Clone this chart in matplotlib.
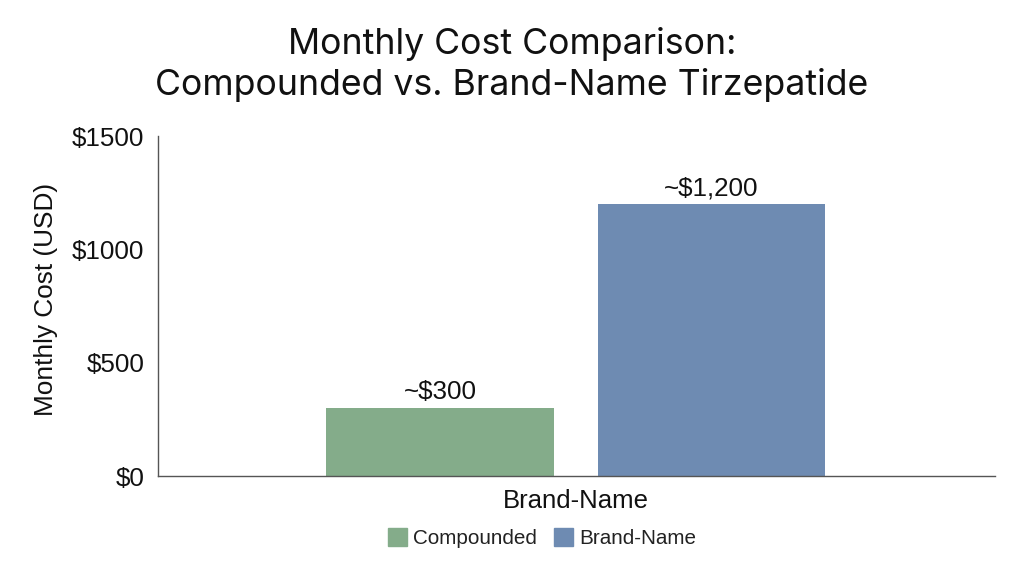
import numpy as np
import matplotlib.pyplot as plt
from matplotlib.patches import Patch

plt.rcParams['font.family'] = ['Liberation Sans', 'DejaVu Sans']

categories = ["Compounded", "Brand-Name"]
costs = [300, 1200]
bar_labels = ["~$300", "~$1,200"]
colors = ["#84AC8A", "#6E8BB2"]
yticks = [0, 500, 1000, 1500]
ytick_labels = ["$0", "$500", "$1000", "$1500"]
group_label = "Brand-Name"

fig = plt.figure(figsize=(10.24, 5.72), dpi=100)
ax = fig.add_axes([158 / 1024, 1 - 476 / 572, (995 - 158) / 1024, (476 - 136) / 572])

# two bars side by side in the one group
x = np.array([-0.5, 0.5])
bars = ax.bar(x, costs, width=227 / 271, color=colors)
for rect, label in zip(bars, bar_labels):
    ax.text(rect.get_x() + rect.get_width() / 2, rect.get_height() + 17, label,
            ha='center', va='bottom', fontsize=18.7, color='#111111')

ax.set_xlim(-0.5 - (440 - 158) / 271, -0.5 + (995 - 440) / 271)
ax.set_ylim(0, 1500)
ax.set_yticks(yticks)
ax.set_yticklabels(ytick_labels, fontsize=18.7, color='#111111')
ax.set_xticks([0])
ax.set_xticklabels([group_label], fontsize=18.5, color='#111111')
ax.tick_params(axis='x', length=0, pad=9)
ax.tick_params(axis='y', length=0, pad=10)
ax.set_ylabel("Monthly Cost (USD)", fontsize=18.9, color='#111111', labelpad=10, y=0.518)

for side in ['top', 'right']:
    ax.spines[side].set_visible(False)
for side in ['left', 'bottom']:
    ax.spines[side].set_color('#555555')
    ax.spines[side].set_linewidth(1)

title_font = ['Inter', 'DejaVu Sans']
fig.text(0.5, 1 - 44 / 572, "Monthly Cost Comparison:", family=title_font, ha='center',
         va='center', fontsize=25.7, color='#111111')
fig.text(0.5, 1 - 85 / 572, "Compounded vs. Brand-Name Tirzepatide", family=title_font,
         ha='center', va='center', fontsize=25.7, color='#111111')

handles = [Patch(color=c, label=n) for c, n in zip(colors, categories)]
fig.legend(handles=handles, loc='center', bbox_to_anchor=(542 / 1024, 1 - 538 / 572), ncol=2,
           frameon=False, fontsize=14.9, handlelength=0.93, handleheight=1.0,
           handletextpad=0.3, columnspacing=0.78, labelcolor='#222222')

fig.savefig("out.png", dpi=100)
